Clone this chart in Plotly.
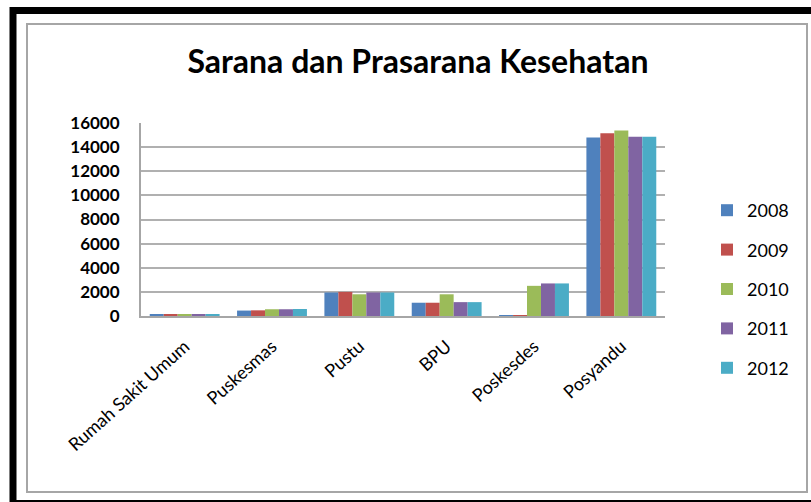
import plotly.graph_objects as go

categories = ["Rumah Sakit Umum", "Puskesmas", "Pustu", "BPU", "Poskesdes", "Posyandu"]
years = ["2008", "2009", "2010", "2011", "2012"]
v2008 = [120, 450, 1950, 1100, 30, 14800]
v2009 = [120, 470, 2000, 1100, 40, 15150]
v2010 = [130, 560, 1800, 1800, 2500, 15380]
v2011 = [130, 560, 1950, 1150, 2700, 14850]
v2012 = [130, 580, 1950, 1150, 2700, 14850]
series = [v2008, v2009, v2010, v2011, v2012]
colors = ["#4F81BD", "#C0504D", "#9BBB59", "#8064A2", "#4BACC6"]
y_ticks = [0, 2000, 4000, 6000, 8000, 10000, 12000, 14000, 16000]
y_tick_labels = [str(v) for v in y_ticks]

W, H = 811, 502
ML, MR, MT, MB = 141, 146, 123, 186
pw, ph = W - ML - MR, H - MT - MB

def px(x):
    return (x - ML) / pw

def py(y):
    return (H - MB - y) / ph

fig = go.Figure()
for name, vals, col in zip(years, series, colors):
    fig.add_trace(go.Bar(
        name=name, x=categories, y=vals,
        marker=dict(color=col, line=dict(color=col, width=0)),
        legendgroup=name,
    ))

shapes = [
    # outer black frame
    dict(type="rect", xref="paper", yref="paper",
         x0=px(13), x1=px(830), y0=py(10.5), y1=py(503.5),
         line=dict(color="black", width=7), fillcolor="rgba(0,0,0,0)", layer="above"),
    # inner grey border
    dict(type="rect", xref="paper", yref="paper",
         x0=px(27), x1=px(807), y0=py(24), y1=py(492),
         line=dict(color="#A6A6A6", width=2), fillcolor="rgba(0,0,0,0)", layer="below"),
]

fig.update_layout(
    width=W, height=H,
    margin=dict(l=ML, r=MR, t=MT, b=MB, autoexpand=False),
    paper_bgcolor="white", plot_bgcolor="white",
    barmode="group", bargap=0.2, bargroupgap=0.0,
    title=dict(text="<b>Sarana dan Prasarana Kesehatan</b>",
               x=418 / W, xanchor="center", y=1 - 62 / H, yanchor="middle",
               font=dict(family="Lato", size=32, color="black")),
    font=dict(family="Lato", color="black"),
    xaxis=dict(
        tickangle=-42, tickfont=dict(family="Lato", size=18, color="black"),
        showgrid=False, showline=True, linecolor="#A6A6A6", linewidth=2,
        ticks="", ticklabelstandoff=11,
    ),
    yaxis=dict(
        range=[0, 16000], tickvals=y_ticks, ticktext=y_tick_labels,
        tickfont=dict(family="Lato", size=17, color="black", weight="bold"),
        showgrid=True, gridcolor="#B0B0B0", gridwidth=2,
        showline=True, linecolor="#A6A6A6", linewidth=2,
        zeroline=False, ticks="", ticklabelstandoff=16,
    ),
    legend=dict(
        x=px(707), y=py(192), xanchor="left", yanchor="top",
        font=dict(family="Lato", size=18, color="black"),
        tracegroupgap=13, itemwidth=30, maxheight=400,
        bgcolor="rgba(0,0,0,0)",
    ),
    shapes=shapes,
)

fig.write_html(
    "out.html",
    config={"displayModeBar": False},
    post_script="document.body.style.margin='0';document.body.style.overflow='hidden';",
)
